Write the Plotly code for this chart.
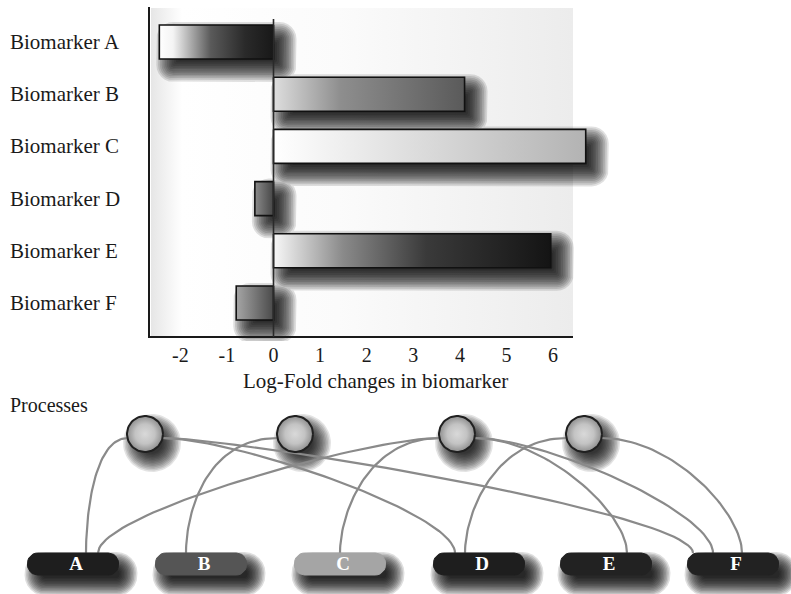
import numpy as np
import plotly.graph_objects as go

# ---------------- data ----------------
BIOMARKERS = ["Biomarker A", "Biomarker B", "Biomarker C",
              "Biomarker D", "Biomarker E", "Biomarker F"]
LOG_FOLD = [-2.45, 4.1, 6.7, -0.4, 5.95, -0.8]
TICK_VALS = [-2, -1, 0, 1, 2, 3, 4, 5, 6]
TICK_TEXT = ["-2", "-1", "0", "1", "2", "3", "4", "5", "6"]
X_TITLE = "Log-Fold changes in biomarker"

PROCESS_TITLE = "Processes"
PROCESSES = ["P1", "P2", "P3", "P4"]
NODE_LABELS = ["A", "B", "C", "D", "E", "F"]
LINKS = [("P1", "A"), ("P1", "D"), ("P1", "F"), ("P2", "B"),
         ("P3", "A"), ("P3", "C"), ("P3", "E"), ("P3", "F"),
         ("P4", "D"), ("P4", "F")]

# ---------------- styles ----------------
FONT = "Liberation Serif, Times New Roman, serif"
INK = "#1a1a1a"
BAR_SHADES = [
    [[0, "#ffffff"], [0.12, "#f4f4f4"], [0.45, "#5a5a5a"], [0.75, "#2a2a2a"], [1, "#181818"]],
    [[0, "#dedede"], [0.35, "#8e8e8e"], [1, "#5a5a5a"]],
    [[0, "#ffffff"], [0.2, "#f0f0f0"], [1, "#b3b3b3"]],
    [[0, "#8a8a8a"], [1, "#464646"]],
    [[0, "#f8f8f8"], [0.25, "#8a8a8a"], [0.55, "#3a3a3a"], [1, "#141414"]],
    [[0, "#a6a6a6"], [1, "#4a4a4a"]],
]
PILL_COLORS = ["#1e1e1e", "#555555", "#a5a5a5", "#1e1e1e", "#222222", "#222222"]
SPHERE_SHADE = [[0, "#d9d9d9"], [0.55, "#c3c3c3"], [1, "#8e8e8e"]]
LINK_COLOR = "#8a8a8a"

# ---------------- geometry (pixels) ----------------
W, H = 791, 594
X0, XS = 273.5, 46.6          # pixel of value 0, pixels per log-fold unit
Y0, YS = 42.0, 52.2           # pixel of first biomarker row, row pitch
BAR_HALF = 17.0
PLOT_L, PLOT_R, PLOT_T, PLOT_B = 145, 620, 4, 341
AXIS_X, AXIS_RIGHT, AXIS_TOP, AXIS_BOTTOM = 149, 573, 7, 337

NET_TOP = 395
PROC_X = [145, 295, 457, 584]
PROC_Y, PROC_R = 434, 18
PILL_X = [73, 201, 340, 479, 606, 733]
PILL_Y, PILL_W, PILL_H = 564, 91, 22
PORTS = [13, -24, -40, -15, 25, 0, 21, -20, -14, 9]


def px2v(p):
    return (p - X0) / XS


def v2px(v):
    return X0 + XS * v


def py2c(p):
    return (p - Y0) / YS


def c2py(c):
    return Y0 + YS * c


def rounded_rect(x0, y0, x1, y1, r, n=7):
    r = max(0.0, min(r, (x1 - x0) / 2, (y1 - y0) / 2))
    pts = []
    for cx, cy, a0, a1 in [(x1 - r, y0 + r, -90, 0), (x1 - r, y1 - r, 0, 90),
                           (x0 + r, y1 - r, 90, 180), (x0 + r, y0 + r, 180, 270)]:
        for a in np.radians(np.linspace(a0, a1, n)):
            pts.append((cx + r * np.cos(a), cy + r * np.sin(a)))
    pts.append(pts[0])
    return [p[0] for p in pts], [p[1] for p in pts]


def circle(cx, cy, r, n=64):
    a = np.linspace(0, 2 * np.pi, n)
    return list(cx + r * np.cos(a)), list(cy + r * np.sin(a))


def soft_shadow(boxes, dx, dy, grow, layers, alpha, xmap, ymap, xaxis, yaxis, kind="rect"):
    """Stacked translucent copies that fake a blurred drop shadow."""
    out = []
    for e in np.linspace(grow[0], grow[1], layers):
        xs, ys = [], []
        for b in boxes:
            if kind == "rect":
                x0, y0, x1, y1, rad = b
                px, py = rounded_rect(x0 + dx - e, y0 + dy - e, x1 + dx + e, y1 + dy + e,
                                      max(2.0, rad + e))
            else:
                cx, cy, r = b
                px, py = circle(cx + dx, cy + dy, max(1.0, r + e))
            xs += [xmap(p) for p in px] + [None]
            ys += [ymap(p) for p in py] + [None]
        out.append(go.Scatter(x=xs, y=ys, mode="lines", fill="toself",
                              fillcolor=f"rgba(0,0,0,{alpha})", line=dict(width=0),
                              hoverinfo="skip", showlegend=False, xaxis=xaxis, yaxis=yaxis))
    return out


fig = go.Figure()
ident = lambda p: p

# ---- bar chart backdrop ----
strip_x, strip_y = rounded_rect(151, 8, 182, AXIS_BOTTOM, 0)
fig.add_trace(go.Scatter(x=[px2v(p) for p in strip_x], y=[py2c(p) for p in strip_y],
                         mode="lines", fill="toself", line=dict(width=0),
                         fillgradient=dict(type="horizontal",
                                           colorscale=[[0, "#e6e6e6"], [1, "#ffffff"]]),
                         hoverinfo="skip", showlegend=False))
panel_x, panel_y = rounded_rect(182, 8, AXIS_RIGHT, AXIS_BOTTOM, 0)
fig.add_trace(go.Scatter(x=[px2v(p) for p in panel_x], y=[py2c(p) for p in panel_y],
                         mode="lines", fill="toself", line=dict(width=0),
                         fillgradient=dict(type="horizontal",
                                           colorscale=[[0, "#ffffff"], [0.4, "#fbfbfb"],
                                                       [1, "#ececec"]]),
                         hoverinfo="skip", showlegend=False))

# ---- bar shadows ----
bar_boxes = []
for i, v in enumerate(LOG_FOLD):
    bar_boxes.append((v2px(min(0, v)), c2py(i) - BAR_HALF, v2px(max(0, v)), c2py(i) + BAR_HALF, 4))
for tr in soft_shadow(bar_boxes, 10, 10, (-10, 13), 14, 0.12, px2v, py2c, "x", "y"):
    fig.add_trace(tr)

# ---- bars with horizontal shading ----
h = BAR_HALF / YS
for i, v in enumerate(LOG_FOLD):
    fig.add_trace(go.Scatter(
        x=[0, v, v, 0, 0], y=[i - h, i - h, i + h, i + h, i - h],
        mode="lines", fill="toself", line=dict(color="#111111", width=1.6),
        fillgradient=dict(type="horizontal", colorscale=BAR_SHADES[i]),
        name=BIOMARKERS[i], hovertext=f"{BIOMARKERS[i]}: {v}", hoverinfo="text",
        showlegend=False))

# ---- axes and zero line ----
fig.add_trace(go.Scatter(x=[px2v(AXIS_X), px2v(AXIS_X), px2v(AXIS_RIGHT)],
                         y=[py2c(AXIS_TOP), py2c(AXIS_BOTTOM), py2c(AXIS_BOTTOM)],
                         mode="lines", line=dict(color=INK, width=2),
                         hoverinfo="skip", showlegend=False))
fig.add_trace(go.Scatter(x=[0, 0], y=[py2c(19), py2c(AXIS_BOTTOM)],
                         mode="lines", line=dict(color="#2a2a2a", width=1.6),
                         hoverinfo="skip", showlegend=False))

# ---- network: shadows ----
pill_top = PILL_Y - PILL_H / 2
pill_boxes = [(x - PILL_W / 2, PILL_Y - PILL_H / 2, x + PILL_W / 2, PILL_Y + PILL_H / 2, 10)
              for x in PILL_X]
for tr in soft_shadow(pill_boxes, 8, 10, (-7, 11), 13, 0.13, ident, ident, "x2", "y2"):
    fig.add_trace(tr)
sphere_boxes = [(x, PROC_Y, PROC_R) for x in PROC_X]
for tr in soft_shadow(sphere_boxes, 7, 9, (-7, 11), 13, 0.11, ident, ident, "x2", "y2",
                      kind="circle"):
    fig.add_trace(tr)

# ---- network: links ----
lx, ly = [], []
t = np.linspace(0, 1, 50)
for (proc, node), port in zip(LINKS, PORTS):
    px = PROC_X[PROCESSES.index(proc)]
    tx = PILL_X[NODE_LABELS.index(node)] + port
    ty = pill_top
    side = -1 if tx < px else 1
    sx, sy = px + side * PROC_R * 0.95, PROC_Y + 4
    dx, dy = tx - sx, ty - sy
    c1 = (sx + side * 0.8 * min(abs(dx), 90), sy)
    c2 = (tx, ty - 0.35 * dy)
    bx = (1 - t) ** 3 * sx + 3 * (1 - t) ** 2 * t * c1[0] + 3 * (1 - t) * t ** 2 * c2[0] + t ** 3 * tx
    by = (1 - t) ** 3 * sy + 3 * (1 - t) ** 2 * t * c1[1] + 3 * (1 - t) * t ** 2 * c2[1] + t ** 3 * ty
    lx += list(bx) + [None]
    ly += list(by) + [None]
fig.add_trace(go.Scatter(x=lx, y=ly, mode="lines", line=dict(color=LINK_COLOR, width=2.2),
                         hoverinfo="skip", showlegend=False, xaxis="x2", yaxis="y2"))

# ---- network: process spheres ----
for k, x in enumerate(PROC_X):
    cx, cy = circle(x, PROC_Y, PROC_R)
    fig.add_trace(go.Scatter(x=cx, y=cy, mode="lines", fill="toself",
                             line=dict(color="#202020", width=2),
                             fillgradient=dict(type="radial", colorscale=SPHERE_SHADE),
                             name=PROCESSES[k], hoverinfo="name", showlegend=False,
                             xaxis="x2", yaxis="y2"))

# ---- network: biomarker pills ----
for k, x in enumerate(PILL_X):
    rx, ry = rounded_rect(*pill_boxes[k][:4], 10)
    fig.add_trace(go.Scatter(x=rx, y=ry, mode="lines", fill="toself",
                             fillcolor=PILL_COLORS[k], line=dict(color=PILL_COLORS[k], width=1),
                             hoverinfo="skip", showlegend=False, xaxis="x2", yaxis="y2"))
fig.add_trace(go.Scatter(x=[x + 3 for x in PILL_X], y=[PILL_Y + 1] * len(PILL_X),
                         mode="text", text=NODE_LABELS,
                         textfont=dict(family=FONT, size=19, color="white", weight="bold"),
                         hoverinfo="skip", showlegend=False, xaxis="x2", yaxis="y2"))

# ---- labels ----
annotations = []
for i, name in enumerate(BIOMARKERS):
    annotations.append(dict(text=name, x=8 / W, xref="paper", xanchor="left",
                            y=i, yref="y", yanchor="middle", showarrow=False,
                            font=dict(family=FONT, size=21, color=INK)))
annotations.append(dict(text=X_TITLE, x=375 / W, xref="paper", xanchor="center",
                        y=(H - 381) / H, yref="paper", yanchor="middle", showarrow=False,
                        font=dict(family=FONT, size=21, color=INK)))
annotations.append(dict(text=PROCESS_TITLE, x=8 / W, xref="paper", xanchor="left",
                        y=(H - 405) / H, yref="paper", yanchor="middle", showarrow=False,
                        font=dict(family=FONT, size=20, color=INK)))

fig.update_layout(
    width=W, height=H,
    margin=dict(l=0, r=0, t=0, b=0, autoexpand=False),
    paper_bgcolor="white", plot_bgcolor="rgba(0,0,0,0)",
    showlegend=False,
    annotations=annotations,
    xaxis=dict(domain=[PLOT_L / W, PLOT_R / W], range=[px2v(PLOT_L), px2v(PLOT_R)],
               tickmode="array", tickvals=TICK_VALS, ticktext=TICK_TEXT,
               tickfont=dict(family=FONT, size=20, color=INK),
               showgrid=False, zeroline=False, showline=False, ticks="", anchor="y"),
    yaxis=dict(domain=[(H - PLOT_B) / H, (H - PLOT_T) / H],
               range=[py2c(PLOT_B), py2c(PLOT_T)],
               showticklabels=False, showgrid=False, zeroline=False, showline=False,
               anchor="x"),
    xaxis2=dict(domain=[0, 1], range=[0, W], visible=False, anchor="y2"),
    yaxis2=dict(domain=[0, (H - NET_TOP) / H], range=[H, NET_TOP], visible=False, anchor="x2"),
)

fig.write_html("out.html")
